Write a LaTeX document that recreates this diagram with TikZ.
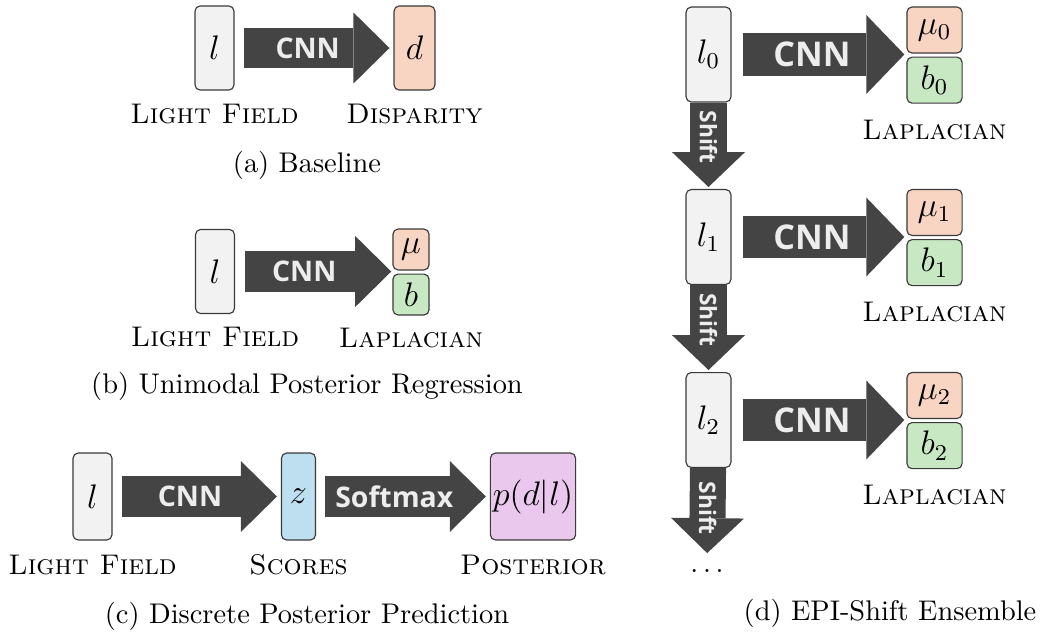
\documentclass[tikz,border=0pt]{standalone}
\usepackage{fontspec}
\setsansfont{Open Sans}
\usetikzlibrary{positioning,arrows.meta}
\usepackage{amsmath}

\definecolor{arrowgray}{HTML}{444444}
\definecolor{framegray}{HTML}{3A3A3A}
\definecolor{boxgray}{HTML}{F2F2F2}
\definecolor{dispcol}{HTML}{F8D5C3}
\definecolor{scalecol}{HTML}{C8E8C4}
\definecolor{scorecol}{HTML}{BDDFF0}
\definecolor{postcol}{HTML}{EAC8EE}

\begin{document}
\begin{tikzpicture}[
    x=0.352pt, y=-0.352pt,
    box/.style={%
      draw=framegray,
      line width=0.4pt,
      rounded corners=1.8pt,
      fill=boxgray,
      inner sep=0pt,
      minimum width=13.7pt,
      minimum height=29.6pt,
      font=\large,
    },
    halfbox/.style={%
      box,
      minimum width=12.7pt,
      minimum height=14.4pt,
    },
    bigbox/.style={%
      box,
      minimum width=15.8pt,
      minimum height=33.4pt,
    },
    bighalf/.style={%
      box,
      minimum width=19.4pt,
      minimum height=16.2pt,
    },
    lbl/.style={%
      inner sep=0pt,
      font=\scshape,
    },
    caption/.style={%
      anchor=base,
      inner sep=0pt,
    },
    flow/.style={%
      draw=arrowgray,
      line width=14.1pt,
      -{Triangle[length=12.7pt,width=25pt,line width=0pt]},
      shorten <=3.2pt,
      shorten >=1.4pt,
    },
    bigflow/.style={%
      draw=arrowgray,
      line width=15.1pt,
      -{Triangle[length=13.4pt,width=27.8pt,line width=0pt]},
      shorten <=3.9pt,
      shorten >=0.7pt,
    },
    shiftflow/.style={%
      draw=arrowgray,
      line width=12.7pt,
      -{Triangle[length=12.3pt,width=25.7pt,line width=0pt]},
      shorten >=0.7pt,
    },
    flowtext/.style={%
      text=white!93!black,
      font=\sffamily\bfseries,
      inner sep=0pt,
    },
  ]

    \useasboundingbox (0,0) rectangle (1044,635);

    % (a) baseline
    \node [box] (la) at (214.5,48) {$l$};
    \path (la) ++(200,0) node [box, fill=dispcol, minimum width=14.4pt] (da) {$d$};
    \node [lbl, below=4.6pt of la] (la-name) {Light Field};
    \node [lbl, below=4.6pt of da] (da-name) {Disparity};
    \draw [flow] (la) -- node [flowtext, pos=0.46] {CNN} (da);
    \node [caption] (cap-a) at (307,172) {(a) Baseline};

    % (b) unimodal posterior
    \node [box] (lb) at (215,271.5) {$l$};
    \path (lb) ++(196,-22) node [halfbox, fill=dispcol] (mub) {$\mu$};
    \node [halfbox, fill=scalecol, below=1.05pt of mub] (bb) {$b$};
    \node [lbl, below=4.2pt of lb] (lb-name) {Light Field};
    \node [lbl, below=4.2pt of bb] (bb-name) {Laplacian};
    \draw [flow, shorten <=3.5pt, shorten >=0.4pt] (lb) -- node [flowtext, pos=0.44] {CNN} (lb -| mub.west);
    \node [caption] (cap-b) at (307,393) {(b) Unimodal Posterior Regression};

    % (c) discrete posterior
    \node [box, minimum height=30.6pt] (lc) at (92.5,496.5) {$l$};
    \path (lc) ++(206,0) node [box, fill=scorecol, minimum width=12pt, minimum height=30.6pt] (zc) {$z$};
    \path (zc) ++(234.5,0) node [box, fill=postcol, minimum width=30pt, minimum height=30.6pt] (pc) {$p(d|l)$};
    \node [lbl, below=4.8pt of lc] (lc-name) {Light Field};
    \node [lbl, below=4.8pt of zc] (zc-name) {Scores};
    \node [lbl, below=4.8pt of pc] (pc-name) {Posterior};
    \draw [flow] (lc) -- node [flowtext, pos=0.46] {CNN} (zc);
    \draw [flow] (zc) -- node [flowtext, pos=0.45] {Softmax} (pc);
    \node [caption] (cap-c) at (307,623) {(c) Discrete Posterior Prediction};

    % (d) shifted ensemble
    \node [bigbox] (l0) at (708.5,54.5) {$l_0$};
    \path (l0) ++(0,182.5) node [bigbox] (l1) {$l_1$};
    \path (l1) ++(0,183) node [bigbox] (l2) {$l_2$};
    \path (l0) ++(226,-24.5) node [bighalf, fill=dispcol] (mu0) {$\mu_0$};
    \path (l1) ++(226,-24.5) node [bighalf, fill=dispcol] (mu1) {$\mu_1$};
    \path (l2) ++(226,-24.5) node [bighalf, fill=dispcol] (mu2) {$\mu_2$};
    \node [bighalf, fill=scalecol, below=1.05pt of mu0] (b0) {$b_0$};
    \node [bighalf, fill=scalecol, below=1.05pt of mu1] (b1) {$b_1$};
    \node [bighalf, fill=scalecol, below=1.05pt of mu2] (b2) {$b_2$};
    \node [lbl, below=5.5pt of b0] (b0-name) {Laplacian};
    \node [lbl, below=5.5pt of b1] (b1-name) {Laplacian};
    \node [lbl, below=5.5pt of b2] (b2-name) {Laplacian};
    \node [inner sep=0pt, anchor=base] (more) at (707,572) {$\ldots$};

    \draw [bigflow] (l0) -- node [flowtext, pos=0.46, font=\sffamily\bfseries\large] {CNN} (l0 -| mu0.west);
    \draw [bigflow] (l1) -- node [flowtext, pos=0.46, font=\sffamily\bfseries\large] {CNN} (l1 -| mu1.west);
    \draw [bigflow] (l2) -- node [flowtext, pos=0.46, font=\sffamily\bfseries\large] {CNN} (l2 -| mu2.west);

    \draw [shiftflow] (l0) -- node [flowtext, pos=0.4, rotate=-90, font=\sffamily\bfseries\footnotesize] {Shift} (l1);
    \draw [shiftflow] (l1) -- node [flowtext, pos=0.4, rotate=-90, font=\sffamily\bfseries\footnotesize] {Shift} (l2);
    \draw [shiftflow, shorten >=5.4pt] (l2) -- node [flowtext, pos=0.4, rotate=-90, font=\sffamily\bfseries\footnotesize] {Shift} (more.north);
    \node [caption] (cap-d) at (890,620) {(d) EPI-Shift Ensemble};

\end{tikzpicture}
\end{document}
